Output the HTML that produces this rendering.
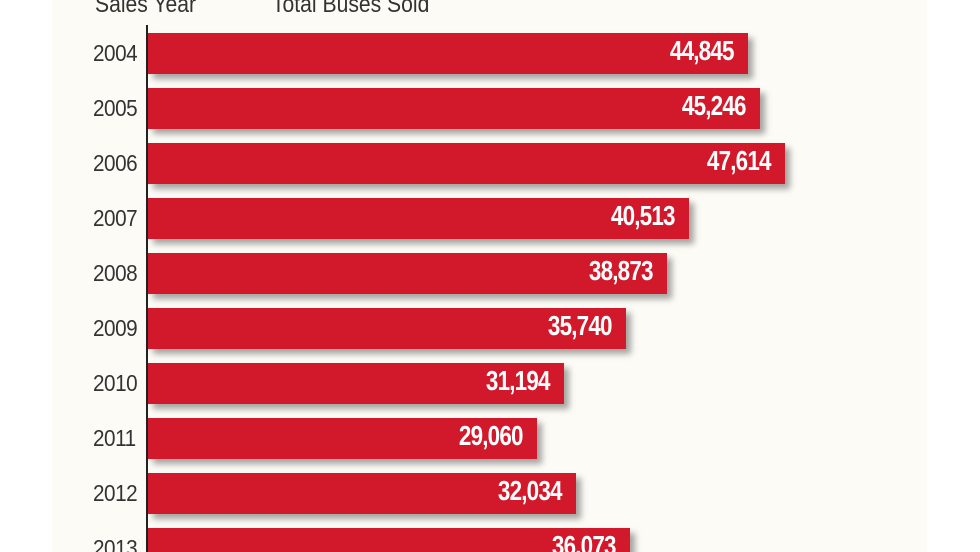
<!DOCTYPE html>
<html><head><style>
html,body{margin:0;width:980px;height:552px;overflow:hidden}
body{background:#fff;position:relative;font-family:"Liberation Sans",sans-serif}
.bg{position:absolute;left:52px;top:0;width:875px;height:552px;background:#fcfbf6}
.h{position:absolute;top:-9px;font-size:24px;color:#333;transform:scaleX(.88);transform-origin:left}
.ax{position:absolute;left:146px;top:25px;width:2px;height:527px;background:#222}
.bar{position:absolute;left:148px;height:41px;background:#d2192b;box-shadow:5px 5px 6px rgba(0,0,0,.35)}
.v{position:absolute;right:14px;top:2px;font-size:28px;font-weight:bold;color:#fff;letter-spacing:-1px;transform:scaleX(.8);transform-origin:right}
.y{position:absolute;left:93px;font-size:23px;color:#333;letter-spacing:-0.5px;transform:scaleX(.9);transform-origin:left}
</style></head><body>
<div class="bg"></div>
<div class="h" style="left:95px">Sales Year</div>
<div class="h" style="left:272px">Total Buses Sold</div>
<div class="ax"></div>
<div class="bar" style="top:33px;width:600px"><span class="v">44,845</span></div><div class="y" style="top:40px">2004</div>
<div class="bar" style="top:88px;width:612px"><span class="v">45,246</span></div><div class="y" style="top:95px">2005</div>
<div class="bar" style="top:143px;width:637px"><span class="v">47,614</span></div><div class="y" style="top:150px">2006</div>
<div class="bar" style="top:198px;width:541px"><span class="v">40,513</span></div><div class="y" style="top:205px">2007</div>
<div class="bar" style="top:253px;width:519px"><span class="v">38,873</span></div><div class="y" style="top:260px">2008</div>
<div class="bar" style="top:308px;width:478px"><span class="v">35,740</span></div><div class="y" style="top:315px">2009</div>
<div class="bar" style="top:363px;width:416px"><span class="v">31,194</span></div><div class="y" style="top:370px">2010</div>
<div class="bar" style="top:418px;width:389px"><span class="v">29,060</span></div><div class="y" style="top:425px">2011</div>
<div class="bar" style="top:473px;width:428px"><span class="v">32,034</span></div><div class="y" style="top:480px">2012</div>
<div class="bar" style="top:528px;width:482px"><span class="v">36,073</span></div><div class="y" style="top:535px">2013</div>
</body></html>
